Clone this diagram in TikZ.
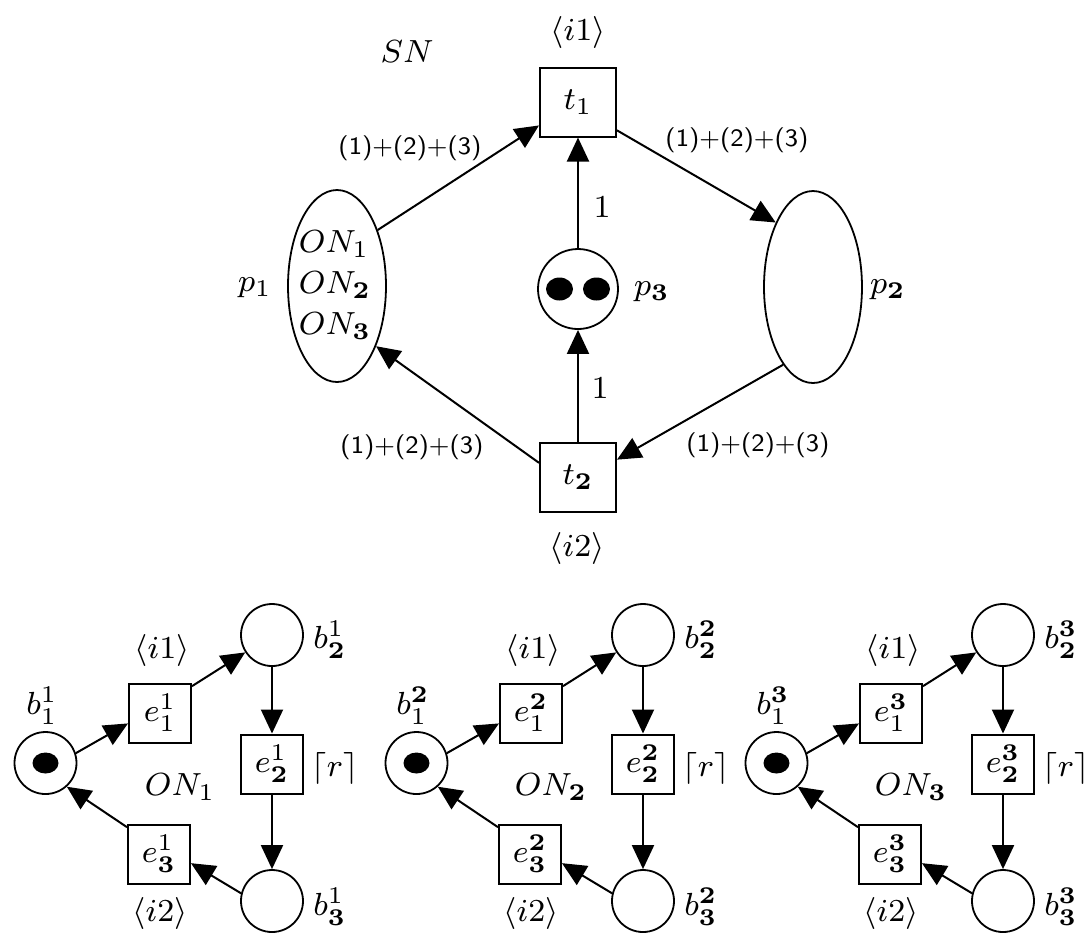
\documentclass[tikz,border=0pt]{standalone}
\usetikzlibrary{arrows.meta,shapes.geometric,calc}
\newcommand\ix[1]{\ifnum#1=1 1\else\mathbf{#1}\fi}
\begin{document}
\begin{tikzpicture}[x=0.25pt,y=-0.25pt,
  txt/.style={font=\fontsize{8.5}{10.25}\selectfont, inner sep=0pt},
  small/.style={font=\sffamily\fontsize{6.25}{7.5}\selectfont, inner sep=0pt},
  trans/.style={draw, line width=0.5pt, minimum width=19pt, minimum height=17.25pt, inner sep=0pt, font=\fontsize{8.5}{10.25}\selectfont},
  etrans/.style={draw, line width=0.5pt, minimum width=15.5pt, minimum height=14.75pt, inner sep=0pt, font=\fontsize{8.5}{10.25}\selectfont},
  bplace/.style={circle, draw, line width=0.45pt, minimum size=15.5pt, inner sep=0pt},
  pplace/.style={ellipse, draw, line width=0.45pt, minimum width=24.5pt, minimum height=48pt, inner sep=0pt},
  arc/.style={line width=0.5pt, -{Triangle[length=6pt,width=5.5pt]}}]
\useasboundingbox (0,0) rectangle (1084,936);

% ---- system net SN ----
\node[trans] (t1) at (578,102) {$t_1$};
\node[trans] (t2) at (578,477) {$t_{\mathbf{2}}$};
\node[circle, draw, line width=0.45pt, minimum size=20pt, inner sep=0pt] (p3) at (578,289) {};
\node[pplace] (p1) at (337,286) {};
\node[pplace] (p2) at (813,287) {};
\fill (559.5,289) ellipse [x radius=13.5, y radius=11.5];
\fill (596.5,289) ellipse [x radius=13.5, y radius=11.5];

\node[txt] (sn) at (407,52) {$SN$};
\node[txt] (i1t) at (578,32) {$\langle i1\rangle$};
\node[txt] (i2t) at (577,548) {$\langle i2\rangle$};
\node[txt] (p1l) at (255,288) {$p_1$};
\node[txt] (p2l) at (888,290) {$p_{\mathbf{2}}$};
\node[txt] (p3l) at (652,292) {$p_{\mathbf{3}}$};
\node[txt, align=left] (ons) at (335,285) {$ON_1$\\$ON_{\mathbf{2}}$\\$ON_{\mathbf{3}}$};

\node[small] (w1) at (410,148) {(1)+(2)+(3)};
\node[small] (w2) at (737,140) {(1)+(2)+(3)};
\node[small] (w3) at (412,447) {(1)+(2)+(3)};
\node[small] (w4) at (758,445) {(1)+(2)+(3)};
\node[txt] (n1) at (602,207) {$1$};
\node[txt] (n2) at (600,388) {$1$};

\draw[arc] (p1.54) -- (t1.211);
\draw[arc] (t1.-36) -- (p2.120);
\draw[arc] (t2.160) -- (p1.-57);
\draw[arc] (p2.249) -- (t2.24);
\draw[arc] (p3.north) -- (t1.south);
\draw[arc] (t2.north) -- (p3.south);

% ---- object nets ON_k ----
\foreach \k/\dx in {1/0,2/371,3/731}{
  \node[bplace] (b1\k) at ({\dx+45.5},763) {};
  \fill ({\dx+45.5},763) ellipse [x radius=13, y radius=10.5];
  \node[etrans] (e1\k) at ({\dx+160},713) {$e_1^{\ix{\k}}$};
  \node[bplace] (b2\k) at ({\dx+272},635) {};
  \node[etrans] (e2\k) at ({\dx+272},764) {$e_{\mathbf{2}}^{\ix{\k}}$};
  \node[bplace] (b3\k) at ({\dx+272},901) {};
  \node[etrans] (e3\k) at ({\dx+159},854) {$e_{\mathbf{3}}^{\ix{\k}}$};

  \node[txt] (lb1\k) at ({\dx+42},706) {$b_1^{\ix{\k}}$};
  \node[txt] (lb2\k) at ({\dx+330},640) {$b_{\mathbf{2}}^{\ix{\k}}$};
  \node[txt] (lb3\k) at ({\dx+330},907) {$b_{\mathbf{3}}^{\ix{\k}}$};
  \node[txt] (li1\k) at ({\dx+162},650) {$\langle i1\rangle$};
  \node[txt] (li2\k) at ({\dx+160},913) {$\langle i2\rangle$};
  \node[txt] (lon\k) at ({\dx+180},787) {$ON_{\ix{\k}}$};
  \node[txt] (lr\k) at ({\dx+335},768) {$\lceil r\rceil$};

  \draw[arc] (b1\k.18) -- (e1\k.198);
  \draw[arc] (e1\k.40) -- (b2\k.213);
  \draw[arc] (b2\k.south) -- (e2\k.north);
  \draw[arc] (e2\k.south) -- (b3\k.north);
  \draw[arc] (b3\k.166) -- (e3\k.-16);
  \draw[arc] (e3\k.140) -- (b1\k.-48);
}
\end{tikzpicture}
\end{document}
